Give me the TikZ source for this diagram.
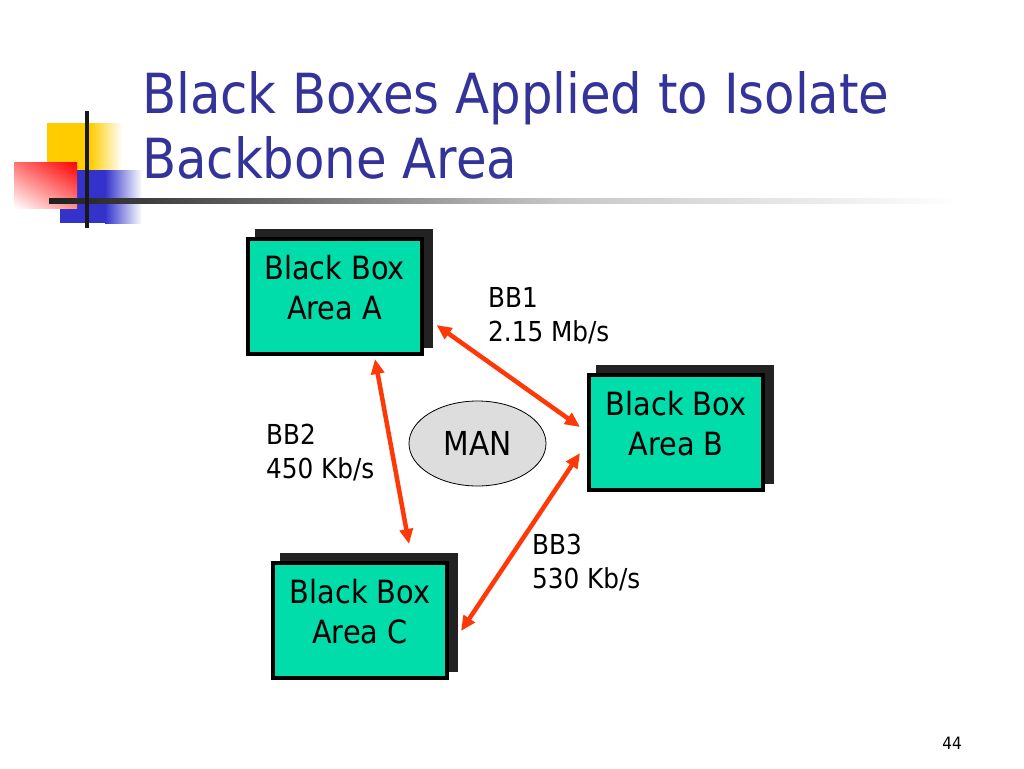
\documentclass[tikz,border=0pt]{standalone}
\usepackage{fontspec}
\setmainfont{DejaVu Sans Condensed}
\usetikzlibrary{shapes.geometric,arrows.meta,shadows,calc,shadings}
\definecolor{titleblue}{RGB}{51,51,153}
\definecolor{boxgreen}{RGB}{0,221,170}
\definecolor{shadowgray}{RGB}{34,34,34}
\definecolor{arrowred}{RGB}{255,56,8}
\definecolor{logoyellow}{RGB}{255,204,0}
\definecolor{logoblue}{RGB}{51,51,204}
\definecolor{logored}{RGB}{255,0,0}
\definecolor{mangray}{RGB}{221,221,221}
\tikzset{
  bbox/.style={draw=black, line width=4pt, fill=boxgreen, minimum width=174pt,
    minimum height=115pt, inner sep=0pt, align=center, text depth=19pt,
    font=\fontsize{32}{40}\selectfont,
    general shadow={fill=shadowgray, draw=shadowgray, line width=4pt,
      shadow xshift=9pt, shadow yshift=8.5pt}},
  lbl/.style={anchor=north west, inner sep=0pt, align=left,
    font=\fontsize{27.5}{34}\selectfont},
  link/.style={draw=arrowred, line width=4.5pt,
    {Triangle[length=15pt,width=13pt]}-{Triangle[length=15pt,width=13pt]}},
  ttl/.style={anchor=base west, inner sep=0pt, text=titleblue,
    font=\fontsize{55.3}{65}\selectfont},
}
\begin{document}
\begin{tikzpicture}[x=1pt,y=-1pt]
\useasboundingbox (0,0) rectangle (1024,768);
\fill[white] (0,0) rectangle (1024,768);
% logo
\fill[logoyellow] (47,123) rectangle (90,170);
\shade[left color=logoyellow, right color=white] (90,123) rectangle (122,170);
\fill[logoblue] (60,170) rectangle (105,223);
\shade[left color=logoblue, right color=white] (105,170) rectangle (142,223);
\shade[upper right=logored, upper left=logored!55!white,
       lower right=logored!45!white, lower left=white] (14,162) rectangle (77,208);
\shade[left color=black!88, right color=black!22] (49,198.5) rectangle (560,203.5);
\shade[left color=black!22, right color=white] (560,198.5) rectangle (960,203.5);
\draw[line width=4.3pt, black!90] (87,111) -- (87,228);
% title
\node[ttl] (t1) at (142,113) {Black Boxes Applied to Isolate};
\node[ttl] (t2) at (142,178) {Backbone Area};
% boxes
\node[bbox] (A) at (334.5,296.5) {Black Box\\Area A};
\node[bbox] (B) at (676,432.5) {Black Box\\Area B};
\node[bbox] (C) at (360,620.5) {Black Box\\Area C};
\node[ellipse, draw=black, line width=0.8pt, fill=mangray, minimum width=137pt,
      minimum height=85pt, inner sep=0pt, font=\fontsize{33}{40}\selectfont]
      (man) at (477.5,443.5) {MAN};
% links
\draw[link] ($(A.east)+(13,28.5)$) -- ($(B.west)+(-7,-5.5)$);
\draw[link] ($(A.south)+(40.5,3)$) -- ($(C.north)+(49,-17)$);
\draw[link] ($(B.west)+(-7,20.5)$) -- ($(C.east)+(12,10.5)$);
% labels
\node[lbl] (l1) at (488,287) {BB1\\2.15 Mb/s};
\node[lbl] (l2) at (266,424) {BB2\\450 Kb/s};
\node[lbl] (l3) at (532,534) {BB3\\530 Kb/s};
\node[anchor=base east, inner sep=0pt, font=\fontsize{17}{20}\selectfont] (pg) at (962,749) {44};
\end{tikzpicture}
\end{document}
